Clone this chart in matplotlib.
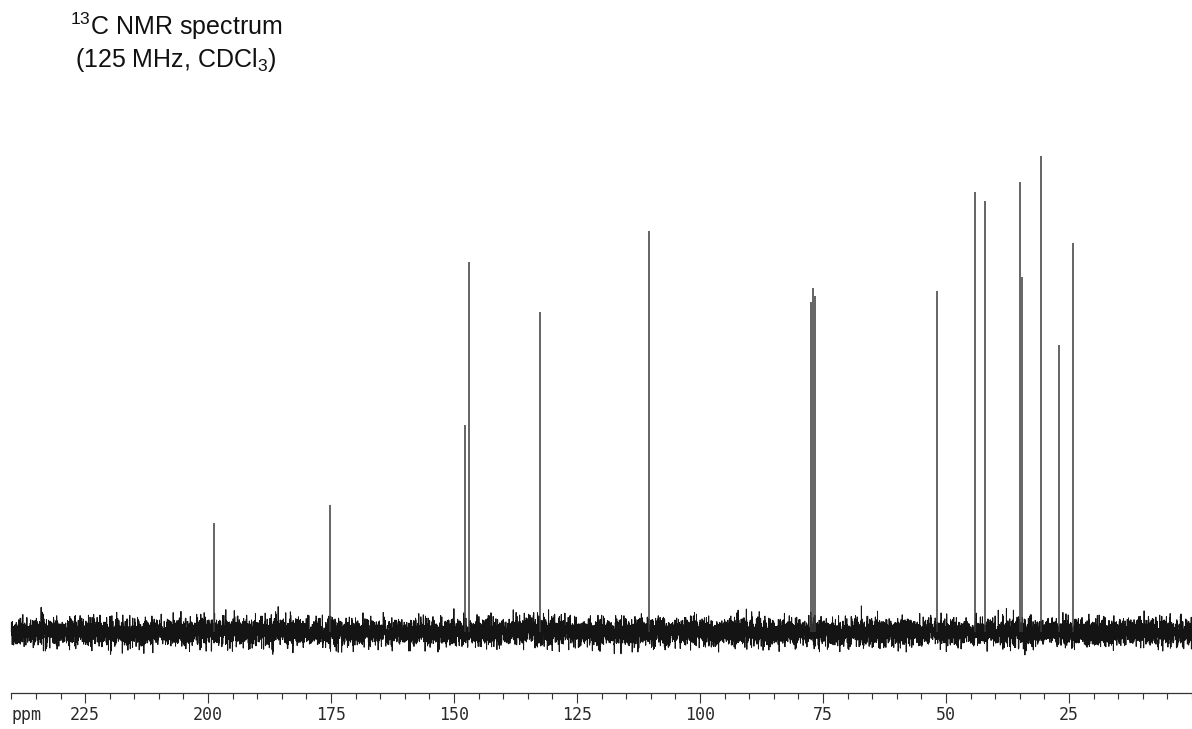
import matplotlib.pyplot as plt
import numpy as np

plt.rcParams['mathtext.fontset'] = 'custom'
plt.rcParams['mathtext.rm'] = 'Liberation Sans'
plt.rcParams['mathtext.it'] = 'Liberation Sans:italic'

# peak positions (ppm) and heights (arbitrary intensity above baseline)
shifts = [198.8, 175.2, 147.8, 147.0, 132.5, 110.4,
          77.4, 77.0, 76.7, 51.8, 44.1, 42.1, 35.0, 34.6, 30.7, 27.0, 24.2]
heights = [109, 127, 207, 370, 320, 401,
           330, 344, 336, 341, 440, 431, 450, 355, 476, 287, 389]

major_ticks = [225, 200, 175, 150, 125, 100, 75, 50, 25]
minor_ticks = np.arange(0, 241, 5)

fig = plt.figure(figsize=(11.92, 7.29), dpi=100)
ax = fig.add_axes([0, 0, 1, 1])
ax.set_xlim(242.3, 0)
ax.set_ylim(-97, 632)

# baseline noise of the scan
ppm = np.linspace(240, 0, 12000)
rng = np.random.default_rng(11)
noise = rng.normal(0, 6.8, ppm.size)
ax.plot(ppm, noise, color='#141414', lw=0.7)

# signals
ax.vlines(shifts, 0, heights, color='#3a3a3a', lw=1.1)

for s in ['top', 'left', 'right']:
    ax.spines[s].set_visible(False)
ax.spines['bottom'].set_position(('data', -61))
ax.spines['bottom'].set_bounds(0, 240)
ax.spines['bottom'].set_linewidth(0.9)
ax.spines['bottom'].set_color('#333333')
ax.set_yticks([])
ax.set_xticks(major_ticks)
ax.set_xticks(minor_ticks, minor=True)
ax.tick_params(axis='x', which='major', direction='out', length=7.5, width=0.8,
               color='#333333', pad=2, labelsize=12, labelcolor='#2a2a2a')
ax.tick_params(axis='x', which='minor', direction='out', length=4.3, width=0.8,
               color='#333333')
for lab in ax.get_xticklabels():
    lab.set_family('DejaVu Sans Mono')

ax.text(237.0, -83, 'ppm', family='DejaVu Sans Mono', fontsize=12,
        color='#2a2a2a', ha='center', va='center')

# heading
fig.text(176 / 1192, 1 - 26 / 729, r'$^{13}$C NMR spectrum', family='Liberation Sans',
         fontsize=18, ha='center', va='center', color='#111111')
fig.text(176 / 1192, 1 - 60 / 729, r'(125 MHz, CDCl$_3$)', family='Liberation Sans',
         fontsize=18, ha='center', va='center', color='#111111')

plt.savefig('out.png', dpi=100)
